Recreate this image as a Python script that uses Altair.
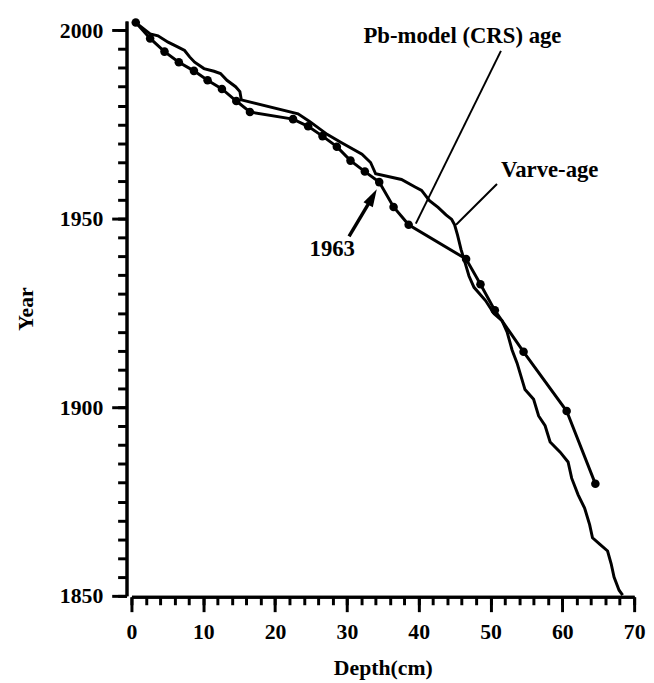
import altair as alt
import pandas as pd

# Pb-model (CRS) age: depth (cm) and year of each dated level
pb_depth = [0.6, 2.6, 4.6, 6.6, 8.7, 10.6, 12.6, 14.6, 16.5, 22.5, 24.6, 26.6,
            28.6, 30.5, 32.5, 34.5, 36.5, 38.6, 46.6, 48.6, 50.6, 54.6, 60.6, 64.6]
pb_year = [2002.0, 1997.8, 1994.3, 1991.5, 1989.2, 1986.7, 1984.4, 1981.2, 1978.3,
           1976.4, 1974.5, 1971.9, 1969.1, 1965.4, 1962.5, 1959.7, 1953.1, 1948.4,
           1939.3, 1932.6, 1925.7, 1914.7, 1899.0, 1879.7]

# Varve-age curve
varve_depth = [0.6, 2.6, 3.7, 5.1, 6.5, 7.4, 8.1, 8.8, 10.1, 11.5, 12.4, 13.3, 14.5,
               15.1, 15.3, 23.2, 24.8, 27.3, 29.2, 32.1, 33.3, 34.0, 37.6, 39.5, 40.4,
               41.5, 42.7, 43.8, 44.6, 45.0, 45.4, 45.9, 46.4, 47.0, 47.7, 49.3, 50.5,
               51.6, 52.3, 53.0, 53.7, 54.8, 56.0, 56.7, 57.6, 58.3, 59.7, 60.8, 61.3,
               62.2, 63.1, 63.8, 64.2, 65.2, 66.3, 66.8, 67.2, 67.9, 68.4]
varve_year = [2002.0, 1999.0, 1998.5, 1996.8, 1995.5, 1994.6, 1992.9, 1991.5, 1989.8,
              1989.1, 1988.5, 1986.7, 1985.0, 1983.7, 1981.5, 1977.8, 1975.8, 1972.3,
              1970.2, 1967.1, 1964.9, 1961.9, 1960.4, 1958.4, 1957.5, 1954.8, 1953.0,
              1951.0, 1949.8, 1948.4, 1945.7, 1941.8, 1938.7, 1934.8, 1931.8, 1928.3,
              1924.8, 1923.0, 1920.0, 1915.2, 1911.7, 1904.7, 1902.1, 1897.7, 1895.1,
              1890.8, 1888.1, 1885.5, 1881.2, 1876.8, 1873.3, 1868.9, 1865.4, 1863.7,
              1861.9, 1858.5, 1855.0, 1851.5, 1850.2]

# Annotation texts (anchored in data units)
label_text = ["Pb-model (CRS) age", "Varve-age", "1963"]
label_depth = [32.3, 51.45, 24.8]
label_year = [1996.6, 1961.0, 1940.05]

# Leader lines from labels to the curves
leader_depth = [51.45, 50.9]
leader_year = [1994.5, 1959.2]
leader_depth2 = [39.6, 45.2]
leader_year2 = [1948.7, 1948.4]

# 1963 arrow: shaft and head
arrow_depth = [30.3]
arrow_year = [1945.3]
arrow_depth2 = [33.56]
arrow_year2 = [1955.75]
head_depth = [33.56]
head_year = [1955.75]

x_minor = list(range(0, 71, 2))
x_major = list(range(0, 71, 10))
y_minor = list(range(1850, 2001, 5))
y_major = [1850, 1900, 1950, 2000]

FONT = "Liberation Serif"

pb = pd.DataFrame({"depth": pb_depth, "year": pb_year, "i": range(len(pb_depth))})
varve = pd.DataFrame({"depth": varve_depth, "year": varve_year, "i": range(len(varve_depth))})
labels = pd.DataFrame({"t": label_text, "depth": label_depth, "year": label_year})
leaders = pd.DataFrame({"depth": leader_depth, "year": leader_year,
                        "depth2": leader_depth2, "year2": leader_year2})
arrow = pd.DataFrame({"depth": arrow_depth, "year": arrow_year,
                      "depth2": arrow_depth2, "year2": arrow_year2})
head = pd.DataFrame({"depth": head_depth, "year": head_year})

xscale = alt.Scale(domain=[0, 70], nice=False, zero=False)
yscale = alt.Scale(domain=[1850, 2002.4], nice=False, zero=False)

common_axis = dict(domainColor="black", domainWidth=3, tickColor="black", tickWidth=3,
                   grid=False, labelFont=FONT, labelFontWeight="bold", labelFontSize=22,
                   labelColor="black", titleFont=FONT, titleFontWeight="bold",
                   titleFontSize=22, titleColor="black")

x_minor_axis = alt.Axis(values=x_minor, tickSize=8, labels=False, title=None,
                        orient="bottom", offset=1, **common_axis)
x_major_axis = alt.Axis(values=x_major, tickSize=15, labelPadding=10, title="Depth(cm)",
                        titlePadding=16, orient="bottom", offset=1, labelFlush=False,
                        **common_axis)
y_minor_axis = alt.Axis(values=y_minor, tickSize=9, labels=False, title=None,
                        orient="left", offset=5, **common_axis)
y_major_axis = alt.Axis(values=y_major, tickSize=15, labelPadding=9, title="Year",
                        titlePadding=22, orient="left", offset=5, format="d",
                        labelFlush=False, **common_axis)

varve_line = alt.Chart(varve).mark_line(color="black", strokeWidth=3).encode(
    x=alt.X("depth:Q", scale=xscale, axis=x_minor_axis),
    y=alt.Y("year:Q", scale=yscale, axis=y_minor_axis),
    order="i:Q",
)

pb_line = alt.Chart(pb).mark_line(color="black", strokeWidth=3).encode(
    x=alt.X("depth:Q", scale=xscale, axis=x_major_axis),
    y=alt.Y("year:Q", scale=yscale, axis=y_major_axis),
    order="i:Q",
)

pb_points = alt.Chart(pb).mark_point(filled=True, color="black", opacity=1, size=75).encode(
    x=alt.X("depth:Q", scale=xscale, axis=None),
    y=alt.Y("year:Q", scale=yscale, axis=None),
)

leader_rules = alt.Chart(leaders).mark_rule(color="black", strokeWidth=2).encode(
    x=alt.X("depth:Q", scale=xscale, axis=None),
    y=alt.Y("year:Q", scale=yscale, axis=None),
    x2="depth2:Q", y2="year2:Q",
)

arrow_rule = alt.Chart(arrow).mark_rule(color="black", strokeWidth=3.5).encode(
    x=alt.X("depth:Q", scale=xscale, axis=None),
    y=alt.Y("year:Q", scale=yscale, axis=None),
    x2="depth2:Q", y2="year2:Q",
)

arrow_head = alt.Chart(head).mark_point(
    shape="M0,-1L0.6,1L-0.6,1Z", filled=True, color="black", opacity=1,
    size=324, angle=29,
).encode(
    x=alt.X("depth:Q", scale=xscale, axis=None),
    y=alt.Y("year:Q", scale=yscale, axis=None),
)

texts = alt.Chart(labels).mark_text(
    font=FONT, fontWeight="bold", fontSize=23, color="black",
    align="left", baseline="alphabetic",
).encode(
    x=alt.X("depth:Q", scale=xscale, axis=None),
    y=alt.Y("year:Q", scale=yscale, axis=None),
    text="t:N",
)

chart = alt.layer(
    varve_line, pb_line, pb_points, leader_rules, arrow_rule, arrow_head, texts
).resolve_axis(x="independent", y="independent").properties(
    width=509, height=582,
    padding={"left": 125, "top": 9, "right": 12, "bottom": 84},
    autosize=alt.AutoSizeParams(type="none"),
    background="white",
).configure_view(stroke=None)

chart.save("out.html", embed_options={"renderer": "svg", "actions": False})
